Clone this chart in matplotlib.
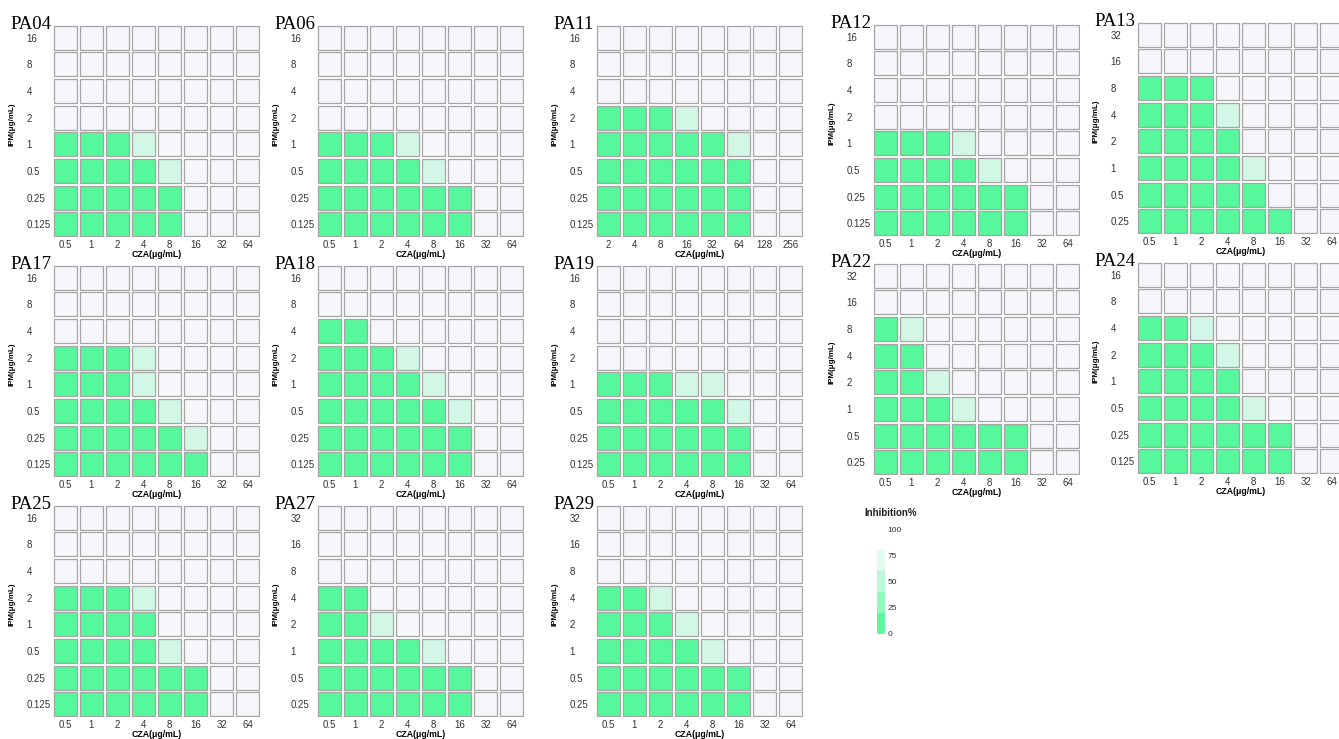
import numpy as np
import matplotlib.pyplot as plt
from matplotlib.patches import Rectangle
from matplotlib.colors import ListedColormap, BoundaryNorm

plt.rcParams["font.family"] = ["Liberation Sans", "DejaVu Sans"]

W_PX, H_PX = 1339, 739

# checkerboard results, rows listed from the highest IPM down
# G = full inhibition, L = partial, W = growth
x_std = ["0.5", "1", "2", "4", "8", "16", "32", "64"]
x_pa11 = ["2", "4", "8", "16", "32", "64", "128", "256"]
y_16 = ["16", "8", "4", "2", "1", "0.5", "0.25", "0.125"]
y_32 = ["32", "16", "8", "4", "2", "1", "0.5", "0.25"]

pa04 = ["WWWWWWWW", "WWWWWWWW", "WWWWWWWW", "WWWWWWWW",
        "GGGLWWWW", "GGGGLWWW", "GGGGGWWW", "GGGGGWWW"]
pa06 = ["WWWWWWWW", "WWWWWWWW", "WWWWWWWW", "WWWWWWWW",
        "GGGLWWWW", "GGGGLWWW", "GGGGGGWW", "GGGGGGWW"]
pa11 = ["WWWWWWWW", "WWWWWWWW", "WWWWWWWW", "GGGLWWWW",
        "GGGGGLWW", "GGGGGGWW", "GGGGGGWW", "GGGGGGWW"]
pa12 = ["WWWWWWWW", "WWWWWWWW", "WWWWWWWW", "WWWWWWWW",
        "GGGLWWWW", "GGGGLWWW", "GGGGGGWW", "GGGGGGWW"]
pa13 = ["WWWWWWWW", "WWWWWWWW", "GGGWWWWW", "GGGLWWWW",
        "GGGGWWWW", "GGGGLWWW", "GGGGGWWW", "GGGGGGWW"]
pa17 = ["WWWWWWWW", "WWWWWWWW", "WWWWWWWW", "GGGLWWWW",
        "GGGLWWWW", "GGGGLWWW", "GGGGGLWW", "GGGGGGWW"]
pa18 = ["WWWWWWWW", "WWWWWWWW", "GGWWWWWW", "GGGLWWWW",
        "GGGGLWWW", "GGGGGLWW", "GGGGGGWW", "GGGGGGWW"]
pa19 = ["WWWWWWWW", "WWWWWWWW", "WWWWWWWW", "WWWWWWWW",
        "GGGLLWWW", "GGGGGLWW", "GGGGGGWW", "GGGGGGWW"]
pa22 = ["WWWWWWWW", "WWWWWWWW", "GLWWWWWW", "GGWWWWWW",
        "GGLWWWWW", "GGGLWWWW", "GGGGGGWW", "GGGGGGWW"]
pa24 = ["WWWWWWWW", "WWWWWWWW", "GGLWWWWW", "GGGLWWWW",
        "GGGGWWWW", "GGGGLWWW", "GGGGGGWW", "GGGGGGWW"]
pa25 = ["WWWWWWWW", "WWWWWWWW", "WWWWWWWW", "GGGLWWWW",
        "GGGGWWWW", "GGGGLWWW", "GGGGGGWW", "GGGGGGWW"]
pa27 = ["WWWWWWWW", "WWWWWWWW", "WWWWWWWW", "GGWWWWWW",
        "GGLWWWWW", "GGGGLWWW", "GGGGGGWW", "GGGGGGWW"]
pa29 = ["WWWWWWWW", "WWWWWWWW", "WWWWWWWW", "GGLWWWWW",
        "GGGLWWWW", "GGGGLWWW", "GGGGGGWW", "GGGGGGWW"]

# name, grid, x labels, y labels, grid left px, grid top px
panels = [
    ("PA04", pa04, x_std, y_16, 53, 25),
    ("PA06", pa06, x_std, y_16, 317, 25),
    ("PA11", pa11, x_pa11, y_16, 596, 25),
    ("PA12", pa12, x_std, y_16, 873, 24),
    ("PA13", pa13, x_std, y_32, 1137, 22),
    ("PA17", pa17, x_std, y_16, 53, 265),
    ("PA18", pa18, x_std, y_16, 317, 265),
    ("PA19", pa19, x_std, y_16, 596, 265),
    ("PA22", pa22, x_std, y_32, 873, 263),
    ("PA24", pa24, x_std, y_16, 1137, 262),
    ("PA25", pa25, x_std, y_16, 53, 505),
    ("PA27", pa27, x_std, y_32, 317, 505),
    ("PA29", pa29, x_std, y_32, 596, 505),
]

level = {"G": 5, "L": 70, "W": 100}
legend_ticks = [0, 25, 50, 75, 100]
legend_bands = [0, 20, 40, 60, 80]

cmap = ListedColormap(["#55f89b", "#8cf8bf", "#d2f7e6", "#f5f5fa"])
norm = BoundaryNorm([0, 40, 65, 90, 101], cmap.N)
band_colors = ["#5cf8a0", "#8ef8bf", "#baf8da", "#e2fbef"]

GRID_W, GRID_H = 207, 212
pad = 0.05

fig = plt.figure(figsize=(W_PX / 100, H_PX / 100), dpi=100)


def px_axes(left, top, w, h):
    return fig.add_axes([left / W_PX, 1 - (top + h) / H_PX, w / W_PX, h / H_PX])


for name, grid, xl, yl, left, top in panels:
    ax = px_axes(left, top, GRID_W, GRID_H)
    vals = np.array([[level[c] for c in row] for row in grid])
    n = vals.shape[0]
    for r in range(n):
        for c in range(vals.shape[1]):
            ax.add_patch(Rectangle((c + pad, n - 1 - r + pad), 1 - 2 * pad, 1 - 2 * pad,
                                   facecolor=cmap(norm(vals[r, c])),
                                   edgecolor="#a5a5a5", linewidth=0.9))
    ax.set_xlim(pad * 0.6, 8 - pad * 0.6)
    ax.set_ylim(pad * 0.6, 8 - pad * 0.6)
    for s in ax.spines.values():
        s.set_visible(False)
    ax.set_xticks(np.arange(8) + 0.5)
    ax.set_xticklabels(xl)
    ax.set_yticks(np.arange(8) + 0.5)
    ax.set_yticklabels(yl[::-1])
    ax.tick_params(length=0, labelsize=7, labelcolor="#333333")
    ax.tick_params(axis="x", pad=2)
    ax.tick_params(axis="y", pad=19)
    for t in ax.get_yticklabels():
        t.set_horizontalalignment("left")
    ax.set_xlabel("CZA(μg/mL)", fontsize=6.3, fontweight="bold", labelpad=0.5)
    ax.set_ylabel("IPM(μg/mL)", fontsize=5.8, fontweight="bold")
    ax.yaxis.set_label_coords(-0.18, 0.53)
    fig.text((left - 43) / W_PX, 1 - (top + 4) / H_PX, name,
             family="Liberation Serif", fontsize=13.5, va="baseline", ha="left")

# legend bar
cax = px_axes(877, 529, 8, 105)
cax.bar([0] * 4, np.diff(legend_bands), bottom=legend_bands[:-1], width=1,
        color=band_colors, align="edge")
cax.set_xlim(0, 1)
cax.set_ylim(0, 100)
for s in cax.spines.values():
    s.set_visible(False)
cax.set_xticks([])
cax.yaxis.tick_right()
cax.set_yticks(legend_ticks)
cax.set_yticklabels([str(t) for t in legend_ticks])
cax.tick_params(length=0, labelsize=6, labelcolor="#333333", pad=2)
fig.text(891 / W_PX, 1 - 513 / H_PX, "Inhibition%", fontsize=7,
         fontweight="bold", ha="center", va="center", color="#222222")

fig.savefig("out.png", dpi=100)
